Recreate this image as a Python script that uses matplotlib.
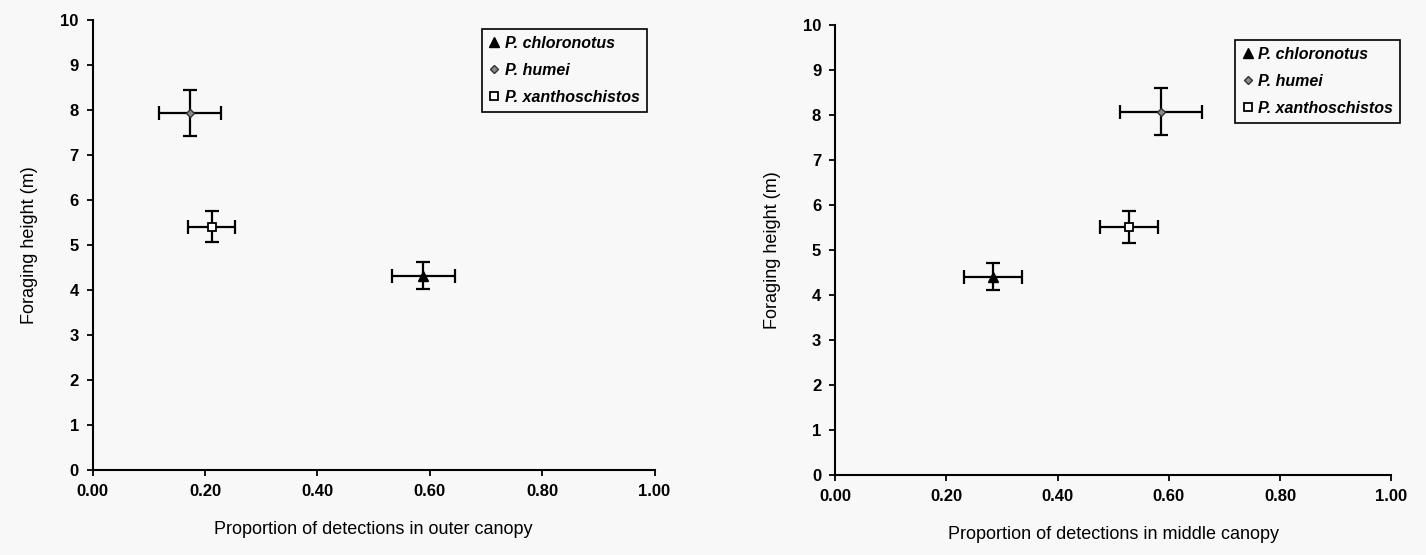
import numpy as np
import matplotlib
matplotlib.use('Agg')
import matplotlib.pyplot as plt
from matplotlib.lines import Line2D
from matplotlib.ticker import FormatStrFormatter

plt.rcParams['font.family'] = ['Liberation Sans', 'DejaVu Sans']

# Species and marker styles
species = ['P. chloronotus', 'P. humei', 'P. xanthoschistos']

# Outer canopy panel
outer_x = [0.588, 0.173, 0.212]
outer_xerr = [0.056, 0.055, 0.042]
outer_y = [4.32, 7.93, 5.41]
outer_yerr = [0.30, 0.51, 0.35]

# Middle canopy panel
middle_x = [0.284, 0.586, 0.528]
middle_xerr = [0.052, 0.074, 0.052]
middle_y = [4.41, 8.07, 5.52]
middle_yerr = [0.30, 0.52, 0.355]

x_ticks = [0.0, 0.2, 0.4, 0.6, 0.8, 1.0]
y_ticks = list(range(0, 11))

bg = '#f8f8f8'
styles = [
    dict(marker='^', mfc='black', mec='black', ms=6.5),
    dict(marker='D', mfc='#8a8a8a', mec='#333333', ms=4.5),
    dict(marker='s', mfc='white', mec='black', ms=6, mew=1.3),
]


def draw_panel(ax, xs, xerrs, ys, yerrs, xlabel, legend_anchor):
    for i in range(len(species)):
        ax.errorbar(xs[i], ys[i], xerr=xerrs[i], yerr=yerrs[i],
                    fmt='none', ecolor='black', elinewidth=1.6,
                    capsize=4.8, capthick=1.6, zorder=2)
        ax.plot(xs[i], ys[i], linestyle='none', zorder=3, **styles[i])
    ax.set_xlim(0, 1.0)
    ax.set_ylim(0, 10)
    ax.set_xticks(x_ticks)
    ax.set_yticks(y_ticks)
    ax.xaxis.set_major_formatter(FormatStrFormatter('%.2f'))
    for s in ['top', 'right']:
        ax.spines[s].set_visible(False)
    for s in ['left', 'bottom']:
        ax.spines[s].set_linewidth(1.5)
    ax.tick_params(direction='out', length=4, width=1.3, labelsize=12,
                   pad=6)
    for lab in ax.get_xticklabels() + ax.get_yticklabels():
        lab.set_fontweight('bold')
    ax.set_facecolor(bg)
    ax.set_xlabel(xlabel, fontsize=13, labelpad=16)
    ax.set_ylabel('Foraging height (m)', fontsize=13, labelpad=16)

    handles = [Line2D([], [], linestyle='none', **styles[i])
               for i in range(len(species))]
    leg = ax.legend(handles, species, loc='upper left',
                    bbox_to_anchor=legend_anchor, frameon=True,
                    fancybox=False, edgecolor='black', framealpha=1,
                    facecolor=bg, handlelength=0.7, handletextpad=0.3,
                    labelspacing=0.75, borderpad=0.45,
                    prop=dict(size=11.5, style='italic', weight='bold'))
    leg.get_frame().set_linewidth(1.2)
    leg.set_clip_on(False)


fig = plt.figure(figsize=(14.26, 5.55), dpi=100, facecolor=bg)
ax1 = fig.add_axes([0.065, 0.153, 0.394, 0.811])
ax2 = fig.add_axes([0.5856, 0.144, 0.39, 0.811])

draw_panel(ax1, outer_x, outer_xerr, outer_y, outer_yerr,
           'Proportion of detections in outer canopy', (0.678, 0.998))
draw_panel(ax2, middle_x, middle_xerr, middle_y, middle_yerr,
           'Proportion of detections in middle canopy', (0.705, 0.985))

fig.savefig('out.png', dpi=100, facecolor=bg)
